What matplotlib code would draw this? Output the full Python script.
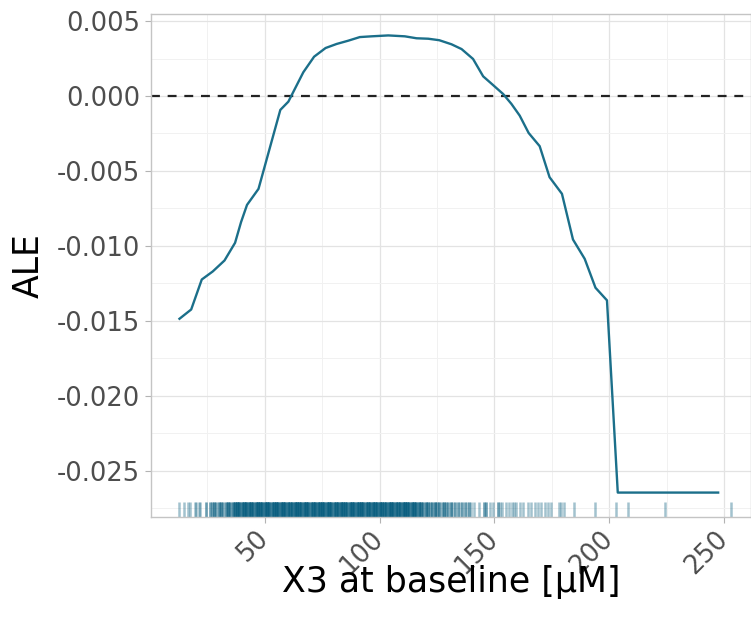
import numpy as np
import matplotlib
matplotlib.use("Agg")
from matplotlib import pyplot as plt

# ALE curve for X3
ale_x = [12.9, 18.0, 22.6, 27.4, 32.5, 37.1, 39.7, 42.3, 47.3, 56.8,
         60.3, 66.8, 71.5, 76.5, 81.3, 86.4, 91.4, 96.5, 103.8, 111.0,
         116.1, 121.2, 126.0, 131.3, 135.7, 140.7, 145.1, 149.4, 153.8, 157.4,
         161.0, 164.9, 169.7, 174.0, 179.4, 184.2, 189.3, 194.0, 199.0, 203.7,
         247.4]
ale_y = [-0.01487, -0.01425, -0.01225, -0.01171, -0.01098, -0.00980, -0.00842, -0.00727, -0.00620, -0.00093,
         -0.00038, 0.00158, 0.00262, 0.00320, 0.00347, 0.00369, 0.00393, 0.00398, 0.00404, 0.00398,
         0.00385, 0.00382, 0.00372, 0.00345, 0.00313, 0.00247, 0.00131, 0.00073, 0.00013, -0.00053,
         -0.00131, -0.00247, -0.00335, -0.00542, -0.00653, -0.00958, -0.01087, -0.01280, -0.01364, -0.02647,
         -0.02647]

# rug: observed X3 values (binned to ~1 uM) and how many sit at each
rug_x = [12.5, 14.7, 16.8, 17.3, 19.5, 20.2, 21.5, 22.0, 24.6,
         26, 27, 28, 29, 30, 31, 32, 33, 34, 35, 36,
         37, 38, 39, 40, 41, 42, 43, 44, 45, 46, 47, 48, 49, 50, 51, 52, 53, 54, 55, 56,
         57, 58, 59, 60, 61, 62, 63, 64, 65, 66, 67, 68, 69, 70, 71, 72, 73, 74, 75, 76,
         77, 78, 79, 80, 81, 82, 83, 84, 85, 86, 87, 88, 89, 90, 91, 92, 93, 94, 95, 96,
         97, 98, 99, 100, 101, 102, 103, 104, 105, 106, 107, 108, 109, 110, 111, 112, 113, 114, 115, 116,
         117,
         118, 119, 120, 121, 122, 123, 124, 125, 126, 127, 128, 129, 130, 131, 132, 133, 134, 135, 136, 137,
         138, 139, 140,
         141.0, 143.1, 145.5, 146.5, 148.0, 149.2, 151.6, 152.5, 153.3, 155.0,
         156.5, 157.5, 158.7, 159.6, 161.0, 162.6, 164.6, 166.0, 167.5, 169.0,
         170.4, 172.0, 173.2, 174.8, 178.3, 179.2, 180.4, 184.8, 194.0, 203.0,
         208.3, 224.4, 253.0]
rug_n = [1, 1, 1, 1, 1, 1, 1, 1, 2,
         2, 2, 3, 2, 3, 3, 2, 3, 4, 3, 4,
         5, 6, 6, 5, 6, 7, 6, 6, 5, 6, 7, 6, 6, 6, 7, 6, 5, 6, 7, 6,
         6, 7, 6, 6, 5, 6, 7, 7, 6, 6, 6, 7, 6, 5, 6, 7, 6, 6, 7, 6,
         6, 7, 6, 5, 6, 6, 7, 6, 6, 5, 6, 7, 6, 6, 6, 7, 6, 5, 6, 6,
         7, 6, 6, 7, 6, 5, 6, 6, 7, 6, 6, 5, 6, 6, 7, 6, 5, 6, 6, 5,
         5,
         4, 3, 4, 3, 2, 3, 4, 2, 3, 2, 3, 2, 2, 3, 1, 2, 2, 1, 2, 2,
         1, 2, 1,
         1, 1, 2, 2, 1, 1, 2, 1, 1, 1,
         1, 1, 1, 1, 1, 1, 1, 1, 1, 1,
         1, 1, 1, 1, 1, 1, 1, 1, 1, 1,
         1, 1, 1]

x_ticks = [50, 100, 150, 200, 250]
x_tick_labels = ["50", "100", "150", "200", "250"]
y_ticks = [-0.025, -0.020, -0.015, -0.010, -0.005, 0.000, 0.005]
y_tick_labels = ["-0.025", "-0.020", "-0.015", "-0.010", "-0.005", "0.000", "0.005"]

line_col = "#1b6f8a"
rug_col = "#0b5f80"

fig = plt.figure(figsize=(7.51, 6.24), dpi=100)
ax = fig.add_axes([151 / 751, 1 - 517 / 624, 1 - 151 / 751, (517 - 14) / 624])

# grid like ggplot theme_light
ax.set_xticks([25, 75, 125, 175, 225], minor=True)
ax.set_yticks([-0.0275, -0.0225, -0.0175, -0.0125, -0.0075, -0.0025, 0.0025], minor=True)
ax.grid(which="major", color="#e3e3e3", lw=0.9)
ax.grid(which="minor", color="#f1f1f1", lw=0.7)
ax.set_axisbelow(True)

ax.axhline(0, color="#222222", lw=1.6, dashes=(4, 3.5), zorder=2)
ax.plot(ale_x, ale_y, color=line_col, lw=1.7, zorder=3)

rx = np.repeat(rug_x, rug_n)
ax.vlines(rx, 0, 0.03, transform=ax.get_xaxis_transform(), color=rug_col,
          alpha=0.38, lw=1.8, zorder=2)

ax.set_xlim(0.5, 261.7)
ax.set_ylim(-0.0281, 0.00547)

ax.set_xticks(x_ticks)
ax.set_xticklabels(x_tick_labels, rotation=45, ha="right", va="center",
                   rotation_mode="anchor")
ax.set_yticks(y_ticks)
ax.set_yticklabels(y_tick_labels)
ax.tick_params(which="major", labelsize=18.5, labelcolor="#4d4d4d", color="#b3b3b3",
               length=4, width=0.8, pad=4)
ax.tick_params(axis="x", pad=9)
ax.tick_params(which="minor", length=0)

for s in ax.spines.values():
    s.set_color("#c4c4c4")
    s.set_linewidth(1.0)

ax.set_xlabel("X3 at baseline [μM]", fontsize=25, va="top")
ax.xaxis.set_label_coords(0.5, -0.095)
ax.set_ylabel("ALE", fontsize=25, labelpad=8)

fig.savefig("out.png", dpi=100)
